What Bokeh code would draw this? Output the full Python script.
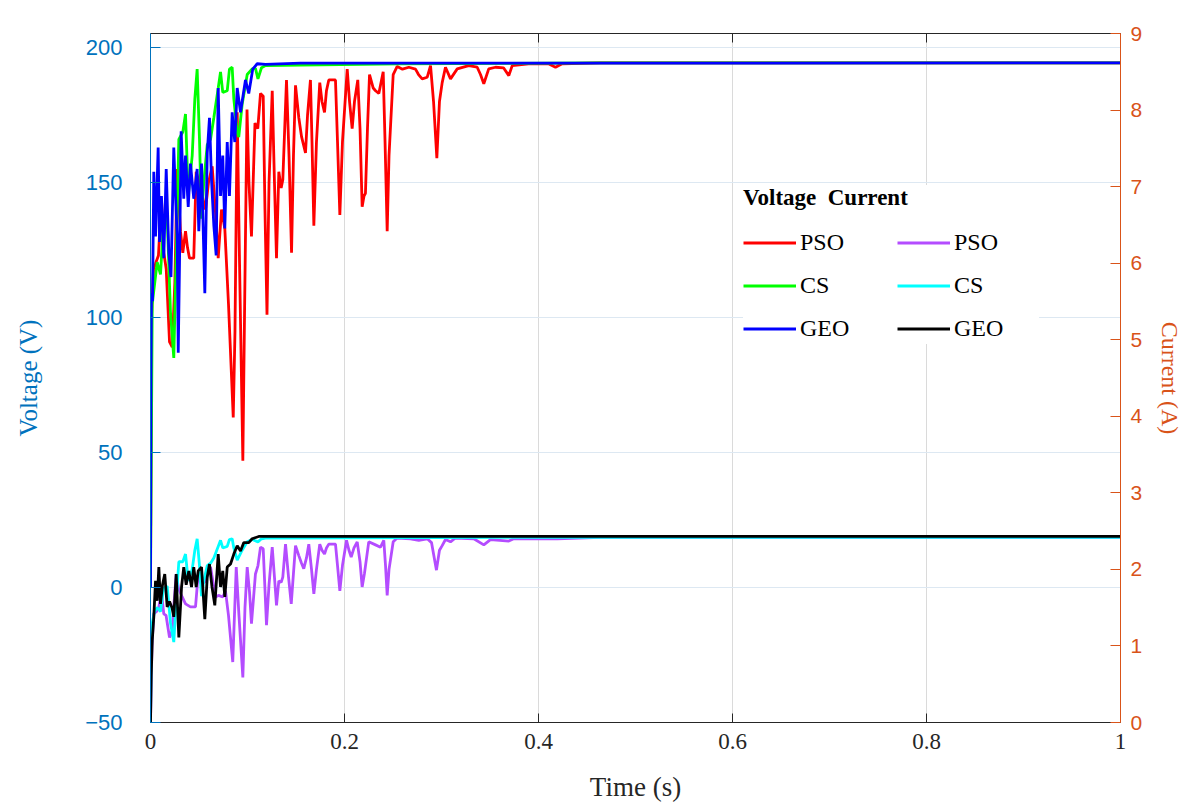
from bokeh.plotting import figure
from bokeh.models import (Range1d, LinearAxis, FixedTicker, Legend, LegendItem,
                          CustomJSTickFormatter)
from bokeh.embed import file_html
from bokeh.resources import INLINE

# ---------------- data ----------------
t_pso_v = [0, 0.0010, 0.0031, 0.0052, 0.0082, 0.0113, 0.0137, 0.0162, 0.0196, 0.0224,
           0.0251, 0.0275, 0.0309, 0.0333, 0.0361, 0.0381, 0.0402, 0.0446, 0.0471, 0.0515,
           0.0567, 0.0598, 0.0636, 0.0670, 0.0698, 0.0732, 0.0766, 0.0804, 0.0853, 0.0871,
           0.0894, 0.0918, 0.0952, 0.0969, 0.0995, 0.1015, 0.1041, 0.1077, 0.1106, 0.1134,
           0.1162, 0.1180, 0.1201, 0.1222, 0.1255, 0.1278, 0.1299, 0.1323, 0.1347, 0.1364,
           0.1402, 0.1428, 0.1454, 0.1474, 0.1495, 0.1529, 0.1557, 0.1598, 0.1619, 0.1649,
           0.1665, 0.1684, 0.1711, 0.1745, 0.1768, 0.1794, 0.1814, 0.1838, 0.1907, 0.1928,
           0.1952, 0.1979, 0.2028, 0.2052, 0.2079, 0.2103, 0.2137, 0.2160, 0.2182, 0.2201,
           0.2216, 0.2237, 0.2258, 0.2296, 0.2320, 0.2354, 0.2399, 0.2418, 0.2440, 0.2459,
           0.2502, 0.2543, 0.2598, 0.2663, 0.2732, 0.2763, 0.2801, 0.2853, 0.2887, 0.2918,
           0.2952, 0.2979, 0.3007, 0.3041, 0.3093, 0.3162, 0.3281, 0.3368, 0.3402, 0.3436,
           0.3487, 0.3557, 0.3639, 0.3694, 0.3729, 0.3897, 0.4103, 0.4175, 0.4244, 0.4639, 1.0]
v_pso = [0, 100, 118, 120, 123, 144, 124, 118, 91, 89,
         113, 155, 132, 124, 132, 126, 122, 122, 154, 148,
         140, 150, 156, 139, 122, 140, 133, 105, 63, 95,
         176, 120, 47, 100, 177, 150, 130, 172, 170, 183,
         182, 140, 101, 150, 184, 150, 122, 154, 148, 151,
         188, 160, 124, 160, 186, 174, 167, 161, 175, 188,
         165, 134, 165, 187, 180, 176, 184, 188, 188, 165,
         138, 165, 192, 180, 170, 180, 188, 170, 141, 145,
         146, 170, 190, 185, 184, 183, 191, 165, 132, 160,
         190, 193, 192, 192.7, 192, 190, 188.4, 189, 193.3, 180,
         159, 180, 187, 192.7, 188.4, 192.1, 193.3, 192.7, 190, 186.6,
         192.1, 192.7, 192.5, 189.6, 193.3, 194, 194, 192.7, 194, 194.3, 194.3]

t_cs_v = [0, 0.0018, 0.0041, 0.0069, 0.0103, 0.0134, 0.0172, 0.0206, 0.0240, 0.0263,
          0.0292, 0.0333, 0.0361, 0.0389, 0.0430, 0.0457, 0.0481, 0.0505, 0.0526, 0.0549,
          0.0585, 0.0619, 0.0653, 0.0698, 0.0722, 0.0745, 0.0791, 0.0814, 0.0842, 0.0859,
          0.0894, 0.0910, 0.0945, 0.0997, 0.1048, 0.1082, 0.1108, 0.1144, 0.1186, 0.1546,
          0.2577, 0.4639, 1.0]
v_cs = [0, 105, 112, 120.5, 116, 135, 137, 102, 85, 120,
        166, 168.7, 175.4, 145, 160, 181, 192, 166, 136.6, 150,
        164, 166, 174, 185, 191, 183.4, 184, 192, 192.7, 181,
        168.6, 166.8, 179, 190, 192.1, 192.3, 188.4, 192.5, 193.3, 193.5,
        194, 194.3, 194.3]

t_geo_v = [0, 0.0005, 0.0010, 0.0021, 0.0034, 0.0052, 0.0079, 0.0093, 0.0113, 0.0137,
           0.0162, 0.0189, 0.0211, 0.0240, 0.0258, 0.0275, 0.0286, 0.0299, 0.0316, 0.0343,
           0.0361, 0.0389, 0.0412, 0.0446, 0.0481, 0.0498, 0.0526, 0.0560, 0.0585, 0.0608,
           0.0629, 0.0653, 0.0677, 0.0698, 0.0722, 0.0745, 0.0766, 0.0791, 0.0814, 0.0842,
           0.0869, 0.0894, 0.0928, 0.0979, 0.1013, 0.1054, 0.1100, 0.1186, 0.1546, 1.0]
v_geo = [0, 80, 109, 106, 154, 130, 163, 128, 145, 122,
         155, 124, 115, 163, 145, 130, 87, 120, 169, 144,
         160, 141, 157, 144, 155, 132, 157, 109, 161, 174,
         151, 134, 123, 185, 145, 160, 133, 165, 145, 176,
         165, 185, 176, 188, 183, 192, 194, 193.8, 194.2, 194.3]

t_pso_i = [0, 0.0015, 0.0034, 0.0062, 0.0086, 0.0113, 0.0137, 0.0160, 0.0196, 0.0224,
           0.0242, 0.0265, 0.0289, 0.0327, 0.0361, 0.0412, 0.0464, 0.0492, 0.0526, 0.0567,
           0.0619, 0.0649, 0.0670, 0.0701, 0.0745, 0.0773, 0.0804, 0.0848, 0.0884, 0.0912,
           0.0952, 0.0974, 0.0997, 0.1021, 0.1041, 0.1082, 0.1108, 0.1134, 0.1162, 0.1178,
           0.1196, 0.1222, 0.1255, 0.1278, 0.1299, 0.1323, 0.1347, 0.1364, 0.1392, 0.1423,
           0.1451, 0.1474, 0.1495, 0.1529, 0.1557, 0.1580, 0.1608, 0.1632, 0.1660, 0.1684,
           0.1711, 0.1745, 0.1768, 0.1794, 0.1814, 0.1838, 0.1907, 0.1928, 0.1952, 0.1979,
           0.2021, 0.2046, 0.2069, 0.2098, 0.2131, 0.2160, 0.2182, 0.2206, 0.2250, 0.2320,
           0.2371, 0.2405, 0.2423, 0.2440, 0.2459, 0.2502, 0.2543, 0.2680, 0.2766, 0.2853,
           0.2897, 0.2948, 0.2979, 0.3007, 0.3041, 0.3093, 0.3144, 0.3333, 0.3436, 0.3505,
           0.3694, 0.3745, 0.4193, 0.4639, 1.0]
i_pso = [0, 1.0, 1.42, 1.45, 1.51, 1.70, 1.42, 1.40, 1.11, 1.20,
         1.55, 1.94, 1.75, 1.64, 1.55, 1.51, 1.51, 1.94, 1.80, 1.85,
         2.03, 1.80, 1.64, 1.66, 1.64, 1.72, 1.40, 0.79, 2.03, 1.40,
         0.59, 1.50, 2.03, 1.70, 1.29, 1.94, 2.05, 2.29, 2.27, 1.80,
         1.27, 1.80, 2.29, 1.90, 1.53, 1.85, 1.83, 1.90, 2.33, 1.90,
         1.55, 1.95, 2.31, 2.18, 2.08, 2.01, 2.15, 2.33, 2.00, 1.68,
         2.00, 2.33, 2.25, 2.20, 2.28, 2.33, 2.33, 2.05, 1.72, 2.05,
         2.38, 2.25, 2.16, 2.28, 2.36, 2.10, 1.77, 1.95, 2.36, 2.32,
         2.29, 2.38, 2.05, 1.66, 2.00, 2.36, 2.41, 2.40, 2.38, 2.40,
         2.35, 1.99, 2.25, 2.31, 2.39, 2.36, 2.41, 2.40, 2.32, 2.39,
         2.37, 2.40, 2.40, 2.42, 2.42]

t_cs_i = [0, 0.0007, 0.0018, 0.0041, 0.0069, 0.0103, 0.0134, 0.0172, 0.0206, 0.0240,
          0.0263, 0.0292, 0.0333, 0.0361, 0.0389, 0.0430, 0.0457, 0.0481, 0.0505, 0.0526,
          0.0549, 0.0585, 0.0619, 0.0653, 0.0698, 0.0722, 0.0745, 0.0791, 0.0814, 0.0842,
          0.0859, 0.0894, 0.0945, 0.0997, 0.1048, 0.1108, 0.1144, 0.1186, 0.4639, 1.0]
i_cs = [0, 0.8, 1.30, 1.45, 1.50, 1.45, 1.75, 1.78, 1.30, 1.05,
        1.55, 2.10, 2.10, 2.20, 1.85, 2.00, 2.25, 2.40, 2.05, 1.65,
        1.85, 2.05, 2.08, 2.15, 2.30, 2.38, 2.28, 2.30, 2.39, 2.40,
        2.28, 2.12, 2.25, 2.36, 2.39, 2.36, 2.40, 2.41, 2.42, 2.42]

t_geo_i = [0, 0.0007, 0.0018, 0.0034, 0.0052, 0.0069, 0.0086, 0.0103, 0.0124, 0.0147,
           0.0172, 0.0196, 0.0222, 0.0240, 0.0265, 0.0292, 0.0320, 0.0343, 0.0368, 0.0395,
           0.0423, 0.0446, 0.0471, 0.0492, 0.0526, 0.0560, 0.0585, 0.0608, 0.0634, 0.0663,
           0.0698, 0.0722, 0.0745, 0.0766, 0.0791, 0.0825, 0.0859, 0.0894, 0.0928, 0.0962,
           0.1013, 0.1048, 0.1116, 1.0]
i_geo = [0, 0.6, 1.07, 1.38, 1.85, 1.59, 2.03, 1.55, 1.80, 1.94,
         1.51, 1.58, 1.50, 1.38, 1.94, 1.11, 1.77, 2.03, 1.80, 1.98,
         1.77, 2.03, 1.77, 1.98, 2.03, 1.35, 1.90, 2.07, 1.77, 1.53,
         2.20, 1.77, 1.98, 1.64, 2.03, 2.07, 2.20, 2.31, 2.24, 2.35,
         2.35, 2.40, 2.43, 2.43]

x_ticks = [0, 0.2, 0.4, 0.6, 0.8, 1.0]
v_ticks = [-50, 0, 50, 100, 150, 200]
i_ticks = [0, 1, 2, 3, 4, 5, 6, 7, 8, 9]
algorithms = ["PSO", "CS", "GEO"]
legend_title = "Voltage  Current"

# ---------------- styling ----------------
BLUE_AX = "#0072BD"
ORANGE_AX = "#D95319"
DARK = "#262626"
SERIF = "Liberation Serif"
SANS = "Liberation Sans"

p = figure(width=1186, height=806, output_backend="svg", toolbar_location=None,
           x_range=Range1d(0, 1), y_range=Range1d(-50, 205.2),
           min_border_left=150, min_border_right=66, min_border_top=33, min_border_bottom=84,
           background_fill_color="white", border_fill_color="white", outline_line_color=None)
p.extra_y_ranges = {"cur": Range1d(0, 9)}

# bottom axis
xa = p.xaxis[0]
xa.ticker = FixedTicker(ticks=x_ticks)
xa.formatter = CustomJSTickFormatter(code="return String(Math.round(tick*10)/10)")
xa.major_tick_in = 9
xa.major_tick_out = 0
xa.minor_tick_line_color = None
xa.axis_line_color = DARK
xa.major_tick_line_color = DARK
xa.major_label_text_color = DARK
xa.major_label_text_font = SERIF
xa.major_label_text_font_size = "23px"
xa.major_label_standoff = 11
xa.axis_label = "Time (s)"
xa.axis_label_text_font = SERIF
xa.axis_label_text_font_size = "27px"
xa.axis_label_text_font_style = "normal"
xa.axis_label_text_color = DARK
xa.axis_label_standoff = 20

# left axis
ya = p.yaxis[0]
ya.ticker = FixedTicker(ticks=v_ticks)
ya.major_tick_in = 10
ya.major_tick_out = 0
ya.minor_tick_line_color = None
ya.axis_line_color = BLUE_AX
ya.major_tick_line_color = BLUE_AX
ya.major_label_text_color = BLUE_AX
ya.major_label_text_font = SANS
ya.major_label_text_font_size = "22px"
ya.major_label_standoff = 28
ya.axis_label = "Voltage (V)"
ya.axis_label_text_font = SERIF
ya.axis_label_text_font_size = "25px"
ya.axis_label_text_font_style = "normal"
ya.axis_label_text_color = BLUE_AX
ya.axis_label_standoff = 40

# right axis
ra = LinearAxis(y_range_name="cur", ticker=FixedTicker(ticks=i_ticks))
ra.major_tick_in = 10
ra.major_tick_out = 0
ra.minor_tick_line_color = None
ra.axis_line_color = ORANGE_AX
ra.major_tick_line_color = ORANGE_AX
ra.major_label_text_color = ORANGE_AX
ra.major_label_text_font = SANS
ra.major_label_text_font_size = "21px"
ra.major_label_standoff = 10
ra.axis_label = "Current (A)"
ra.axis_label_text_font = SERIF
ra.axis_label_text_font_size = "24px"
ra.axis_label_text_font_style = "normal"
ra.axis_label_text_color = ORANGE_AX
ra.axis_label_standoff = 12
p.add_layout(ra, "right")

# top box edge with inward ticks, no labels
ta = LinearAxis(ticker=FixedTicker(ticks=x_ticks))
ta.major_tick_in = 9
ta.major_tick_out = 0
ta.minor_tick_line_color = None
ta.axis_line_color = DARK
ta.major_tick_line_color = DARK
ta.major_label_text_color = None
p.add_layout(ta, "above")

# grids
p.xgrid.ticker = FixedTicker(ticks=x_ticks)
p.xgrid.grid_line_color = "#DADADA"
p.ygrid.ticker = FixedTicker(ticks=v_ticks)
p.ygrid.grid_line_color = "#DDE8F2"

LW = 2.8
r_pso_v = p.line(t_pso_v, v_pso, line_color="#FF0000", line_width=LW)
r_cs_v = p.line(t_cs_v, v_cs, line_color="#00FF00", line_width=LW)
r_geo_v = p.line(t_geo_v, v_geo, line_color="#0000FF", line_width=LW)
r_pso_i = p.line(t_pso_i, i_pso, line_color="#B44CFF", line_width=LW, y_range_name="cur")
r_cs_i = p.line(t_cs_i, i_cs, line_color="#00FFFF", line_width=LW, y_range_name="cur")
r_geo_i = p.line(t_geo_i, i_geo, line_color="#000000", line_width=LW, y_range_name="cur")

items = [LegendItem(label=algorithms[0], renderers=[r_pso_v]),
         LegendItem(label=algorithms[1], renderers=[r_cs_v]),
         LegendItem(label=algorithms[2], renderers=[r_geo_v]),
         LegendItem(label=algorithms[0], renderers=[r_pso_i]),
         LegendItem(label=algorithms[1], renderers=[r_cs_i]),
         LegendItem(label=algorithms[2], renderers=[r_geo_i])]
leg = Legend(items=items, location=(593, 378), orientation="vertical", nrows=3,
             title=legend_title, title_text_font=SERIF, title_text_font_style="bold",
             title_text_font_size="23px", title_text_color="#000000", title_standoff=16,
             label_text_font=SERIF, label_text_font_size="24px", label_text_color="#000000",
             glyph_width=53, glyph_height=31, label_height=31, label_width=85,
             label_standoff=4, spacing=12, padding=16, margin=0,
             border_line_color=None, background_fill_color="white", background_fill_alpha=1.0)
p.add_layout(leg)

open("out.html", "w").write(file_html(p, INLINE))
